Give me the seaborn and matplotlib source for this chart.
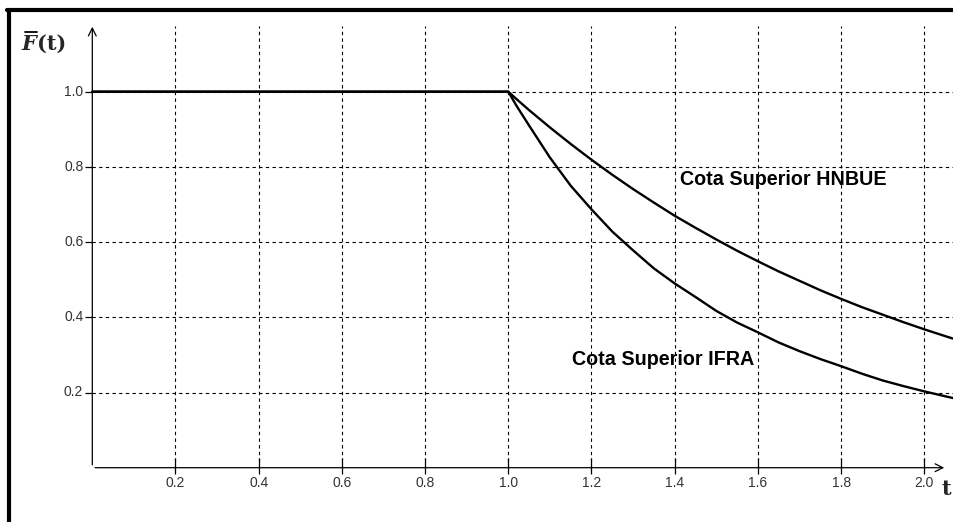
import numpy as np
import pandas as pd
import matplotlib
matplotlib.use("Agg")
import matplotlib.pyplot as plt
import seaborn as sns

# values
t_values = [0.0, 1.0, 1.02, 1.05, 1.1, 1.15, 1.2, 1.25, 1.3, 1.35, 1.4, 1.45, 1.5, 1.55,
            1.6, 1.65, 1.7, 1.75, 1.8, 1.85, 1.9, 1.95, 2.0, 2.05, 2.07]
hnbue = [1.0, 1.0, 0.980, 0.951, 0.905, 0.861, 0.819, 0.779, 0.741, 0.705, 0.670, 0.638,
         0.607, 0.577, 0.549, 0.522, 0.497, 0.472, 0.449, 0.427, 0.407, 0.387, 0.368,
         0.350, 0.343]
ifra = [1.0, 1.0, 0.962, 0.91, 0.825, 0.75, 0.687, 0.628, 0.578, 0.53, 0.49, 0.454,
        0.417, 0.386, 0.36, 0.333, 0.31, 0.289, 0.27, 0.25, 0.232, 0.217, 0.203, 0.19,
        0.185]

x_ticks = [0.2, 0.4, 0.6, 0.8, 1.0, 1.2, 1.4, 1.6, 1.8, 2.0]
y_ticks = [0.2, 0.4, 0.6, 0.8, 1.0]
x_tick_labels = ["0.2", "0.4", "0.6", "0.8", "1.0", "1.2", "1.4", "1.6", "1.8", "2.0"]
y_tick_labels = ["0.2", "0.4", "0.6", "0.8", "1.0"]

label_hnbue = "Cota Superior HNBUE"
label_ifra = "Cota Superior IFRA"

df = pd.DataFrame({
    "t": t_values * 2,
    "F": hnbue + ifra,
    "serie": [label_hnbue] * len(t_values) + [label_ifra] * len(t_values),
})

sns.set_theme(style="white")
plt.rcParams["font.family"] = ["Liberation Sans", "DejaVu Sans"]

W, H = 954, 522
fig = plt.figure(figsize=(W / 100, H / 100), dpi=100)
ax = fig.add_axes([0, 0, 1, 1])
ax.axis("off")

# pixel mapping: t=0 at x=92.3, 416 px per unit; F=0 at y=467.7, 376 px per unit
x0, sx = 92.3, 416.0
y0, sy = 467.7, 376.0
ax.set_xlim(-x0 / sx, (W - x0) / sx)
ax.set_ylim(-(H - y0) / sy, y0 / sy)

x_right = (W - x0) / sx
y_top_grid = (y0 - 26) / sy

# dashed grid
ax.vlines(x_ticks, 0, y_top_grid, colors="black", linewidth=0.8, linestyles=(0, (3, 3)))
ax.hlines(y_ticks, 0, x_right, colors="black", linewidth=0.8, linestyles=(0, (3, 3)))

# curves
sns.lineplot(data=df, x="t", y="F", hue="serie", palette=["black", "black"],
             estimator=None, sort=False, linewidth=1.7, legend=False, ax=ax)

# axes with arrows
arrow_kw = dict(arrowstyle="->", color="black", lw=0.9, mutation_scale=14)
ax.annotate("", xy=(0, (y0 - 24) / sy), xytext=(0, 0), arrowprops=arrow_kw)
ax.annotate("", xy=((947 - x0) / sx, 0), xytext=(0, 0), arrowprops=arrow_kw)

# tick marks
ax.vlines(x_ticks, -6 / sy, 10 / sy, colors="black", linewidth=0.9)
ax.hlines(y_ticks, -7 / sx, 0, colors="black", linewidth=0.9)

for xv, lab in zip(x_ticks, x_tick_labels):
    ax.text(xv, -15 / sy, lab, ha="center", va="center", fontsize=10, color="#333333")
for yv, lab in zip(y_ticks, y_tick_labels):
    ax.text(-9 / sx, yv, lab, ha="right", va="center", fontsize=10, color="#333333")

# curve labels
ax.text(1.413, (y0 - 179.5) / sy, label_hnbue, ha="left", va="center",
        fontsize=14.2, fontweight="bold", color="black")
ax.text(1.153, (y0 - 359.5) / sy, label_ifra, ha="left", va="center",
        fontsize=14.2, fontweight="bold", color="black")

# axis titles
fig.text(21 / W, 1 - 44 / H, "F", fontfamily="DejaVu Serif", fontweight="bold",
         fontstyle="italic", fontsize=15, ha="left", va="center")
fig.text(37 / W, 1 - 44 / H, "(t)", fontfamily="DejaVu Serif", fontweight="bold",
         fontsize=15, ha="left", va="center")
fig.add_artist(plt.Line2D([25 / W, 37 / W], [1 - 32 / H, 1 - 32 / H],
                          color="black", linewidth=1.3))
fig.text(946 / W, 1 - 489 / H, "t", fontfamily="DejaVu Serif", fontweight="bold",
         fontsize=15, ha="center", va="center")

# frame border on top and left
fig.add_artist(plt.Line2D([9 / W, 9 / W], [0, 1 - 10 / H], color="black", linewidth=3))
fig.add_artist(plt.Line2D([7.5 / W, 1], [1 - 10 / H, 1 - 10 / H], color="black", linewidth=3))

fig.savefig("out.png", dpi=100, facecolor="white")
